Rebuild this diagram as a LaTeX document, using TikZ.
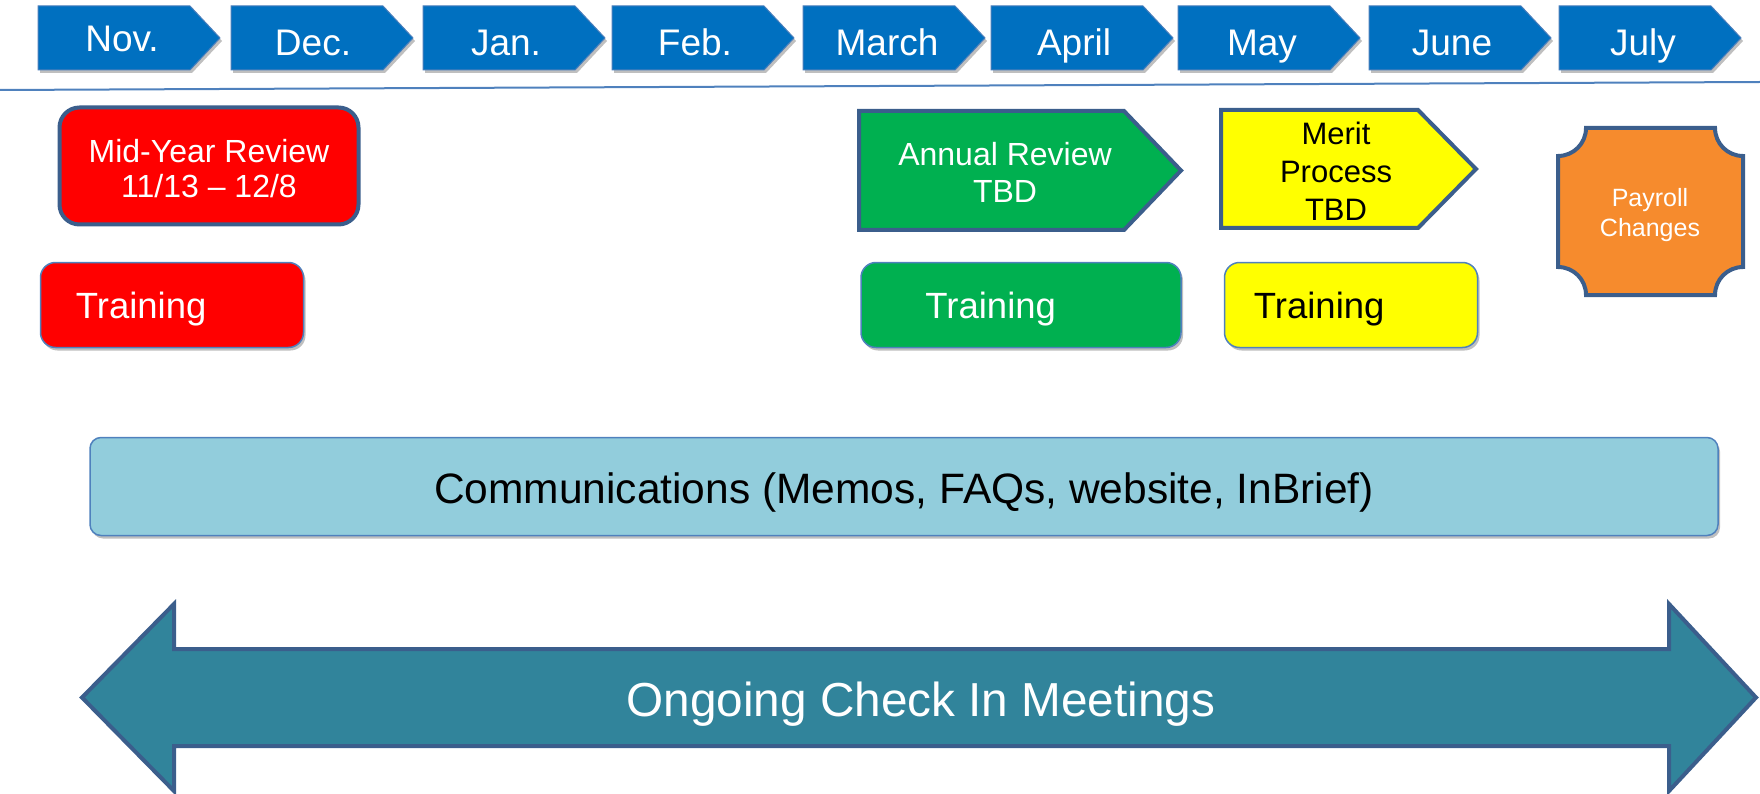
\documentclass[tikz,border=0pt]{standalone}
\usepackage{fontspec}
\setmainfont{Liberation Sans}
\usetikzlibrary{positioning,shadows}

\definecolor{monthblue}{HTML}{0070C0}
\definecolor{monthedge}{HTML}{4A7EBB}
\definecolor{darkedge}{HTML}{3B5E8C}
\definecolor{lightedge}{HTML}{4F81BD}
\definecolor{midred}{HTML}{FF0000}
\definecolor{annualgreen}{HTML}{00B050}
\definecolor{merityellow}{HTML}{FFFF00}
\definecolor{payorange}{HTML}{F68B2D}
\definecolor{commblue}{HTML}{92CDDC}
\definecolor{meetteal}{HTML}{31849B}

\begin{document}
\begin{tikzpicture}[x=1pt, y=-1pt,
    softshadow/.style={drop shadow={shadow xshift=2pt, shadow yshift=-3pt, opacity=0.25, fill=black}},
    month/.style={fill=monthblue, draw=monthedge, line width=1pt, softshadow},
    montxt/.style={text=white, font=\fontsize{37}{40}\selectfont, anchor=base, inner sep=0pt},
    thickedge/.style={draw=darkedge, line width=4pt},
    trainbox/.style={draw=lightedge, line width=1.5pt, rounded corners=15pt, minimum height=85pt, softshadow},
    traintxt/.style={font=\fontsize{36.5}{40}\selectfont, inner sep=0pt},
    evttxt/.style={align=center, inner sep=0pt}]
        \useasboundingbox (0,0) rectangle (1760,794);

        % month bar
        \draw[month] (38,6)--(190,6)--(220,38)--(190,70)--(38,70)--cycle;
        \draw[month] (231,6)--(383,6)--(413,38)--(383,70)--(231,70)--cycle;
        \draw[month] (423,6)--(575,6)--(605,38)--(575,70)--(423,70)--cycle;
        \draw[month] (612,6)--(764,6)--(794,38)--(764,70)--(612,70)--cycle;
        \draw[month] (803,6)--(955,6)--(985,38)--(955,70)--(803,70)--cycle;
        \draw[month] (991,6)--(1143,6)--(1173,38)--(1143,70)--(991,70)--cycle;
        \draw[month] (1178,6)--(1330,6)--(1360,38)--(1330,70)--(1178,70)--cycle;
        \draw[month] (1369,6)--(1521,6)--(1551,38)--(1521,70)--(1369,70)--cycle;
        \draw[month] (1559,6)--(1711,6)--(1741,38)--(1711,70)--(1559,70)--cycle;
        \node[montxt] (nov) at (122,52) {Nov.};
        \node[montxt] (dec) at (313,56) {Dec.};
        \node[montxt] (jan) at (506,56) {Jan.};
        \node[montxt] (feb) at (695,56) {Feb.};
        \node[montxt] (mar) at (887,56) {March};
        \node[montxt] (apr) at (1074,56) {April};
        \node[montxt] (may) at (1262,55.5) {May};
        \node[montxt] (jun) at (1452,55.5) {June};
        \node[montxt] (jul) at (1643,55.5) {July};
        \draw[lightedge, line width=2pt] (0,90)--(1760,82);

        % review boxes
        \node[thickedge, fill=midred, rounded corners=20pt, minimum width=299pt, minimum height=117pt] (midyear) at (209,166) {};
        \node[evttxt, text=white, font=\fontsize{32}{35}\selectfont] (midyeartxt) at (209,168.5) {Mid-Year Review\\11/13 -- 12/8};
        \draw[thickedge, fill=annualgreen] (859,111)--(1124,111)--(1181,170.5)--(1124,230)--(859,230)--cycle;
        \node[evttxt, text=white, font=\fontsize{32}{37}\selectfont] (annual) at (1005,172) {Annual Review\\TBD};
        \draw[thickedge, fill=merityellow] (1221,110)--(1418,110)--(1476,169)--(1418,228)--(1221,228)--cycle;
        \node[evttxt, font=\fontsize{31}{38}\selectfont] (merit) at (1336,171) {Merit\\Process\\TBD};
        \draw[thickedge, fill=payorange] (1586,128)--(1715,128) .. controls (1715,143.5) and (1727.5,156) .. (1743,156)
            --(1743,267) .. controls (1727.5,267) and (1715,279.5) .. (1715,295)
            --(1586,295) .. controls (1586,279.5) and (1573.5,267) .. (1558,267)
            --(1558,156) .. controls (1573.5,156) and (1586,143.5) .. (1586,128)--cycle;
        \node[evttxt, text=white, font=\fontsize{25}{30}\selectfont] (payroll) at (1650,215) {Payroll\\Changes};

        % training
        \node[trainbox, fill=midred, minimum width=263pt] (trainred) at (172,305) {};
        \node[traintxt, text=white, anchor=west] (trainredtxt) at ([xshift=36pt,yshift=-4pt]trainred.west) {Training};
        \node[trainbox, fill=annualgreen, minimum width=320pt] (traingreen) at (1021,305) {};
        \node[traintxt, text=white, anchor=west] (traingreentxt) at ([xshift=65pt,yshift=-4pt]traingreen.west) {Training};
        \node[trainbox, fill=merityellow, minimum width=253pt] (trainyellow) at (1351,305) {};
        \node[traintxt, anchor=west] (trainyellowtxt) at ([xshift=30pt,yshift=-4pt]trainyellow.west) {Training};

        % communications
        \node[draw=lightedge, line width=1.5pt, fill=commblue, rounded corners=11pt, softshadow,
            minimum width=1628pt, minimum height=98pt] (comm) at (904,486.5) {};
        \node[font=\fontsize{42.5}{48}\selectfont] (commtxt) at (904,492) {Communications (Memos, FAQs, website, InBrief)};

        % meetings arrow
        \draw[thickedge, fill=meetteal] (82,697.5)--(174,604)--(174,649)--(1669,649)--(1669,604)--(1756,697.5)
            --(1669,791)--(1669,746)--(174,746)--(174,791)--cycle;
        \node[text=white, font=\fontsize{47.7}{52}\selectfont] (meet) at (921,704.5) {Ongoing Check In Meetings};
    \end{tikzpicture}
\end{document}
